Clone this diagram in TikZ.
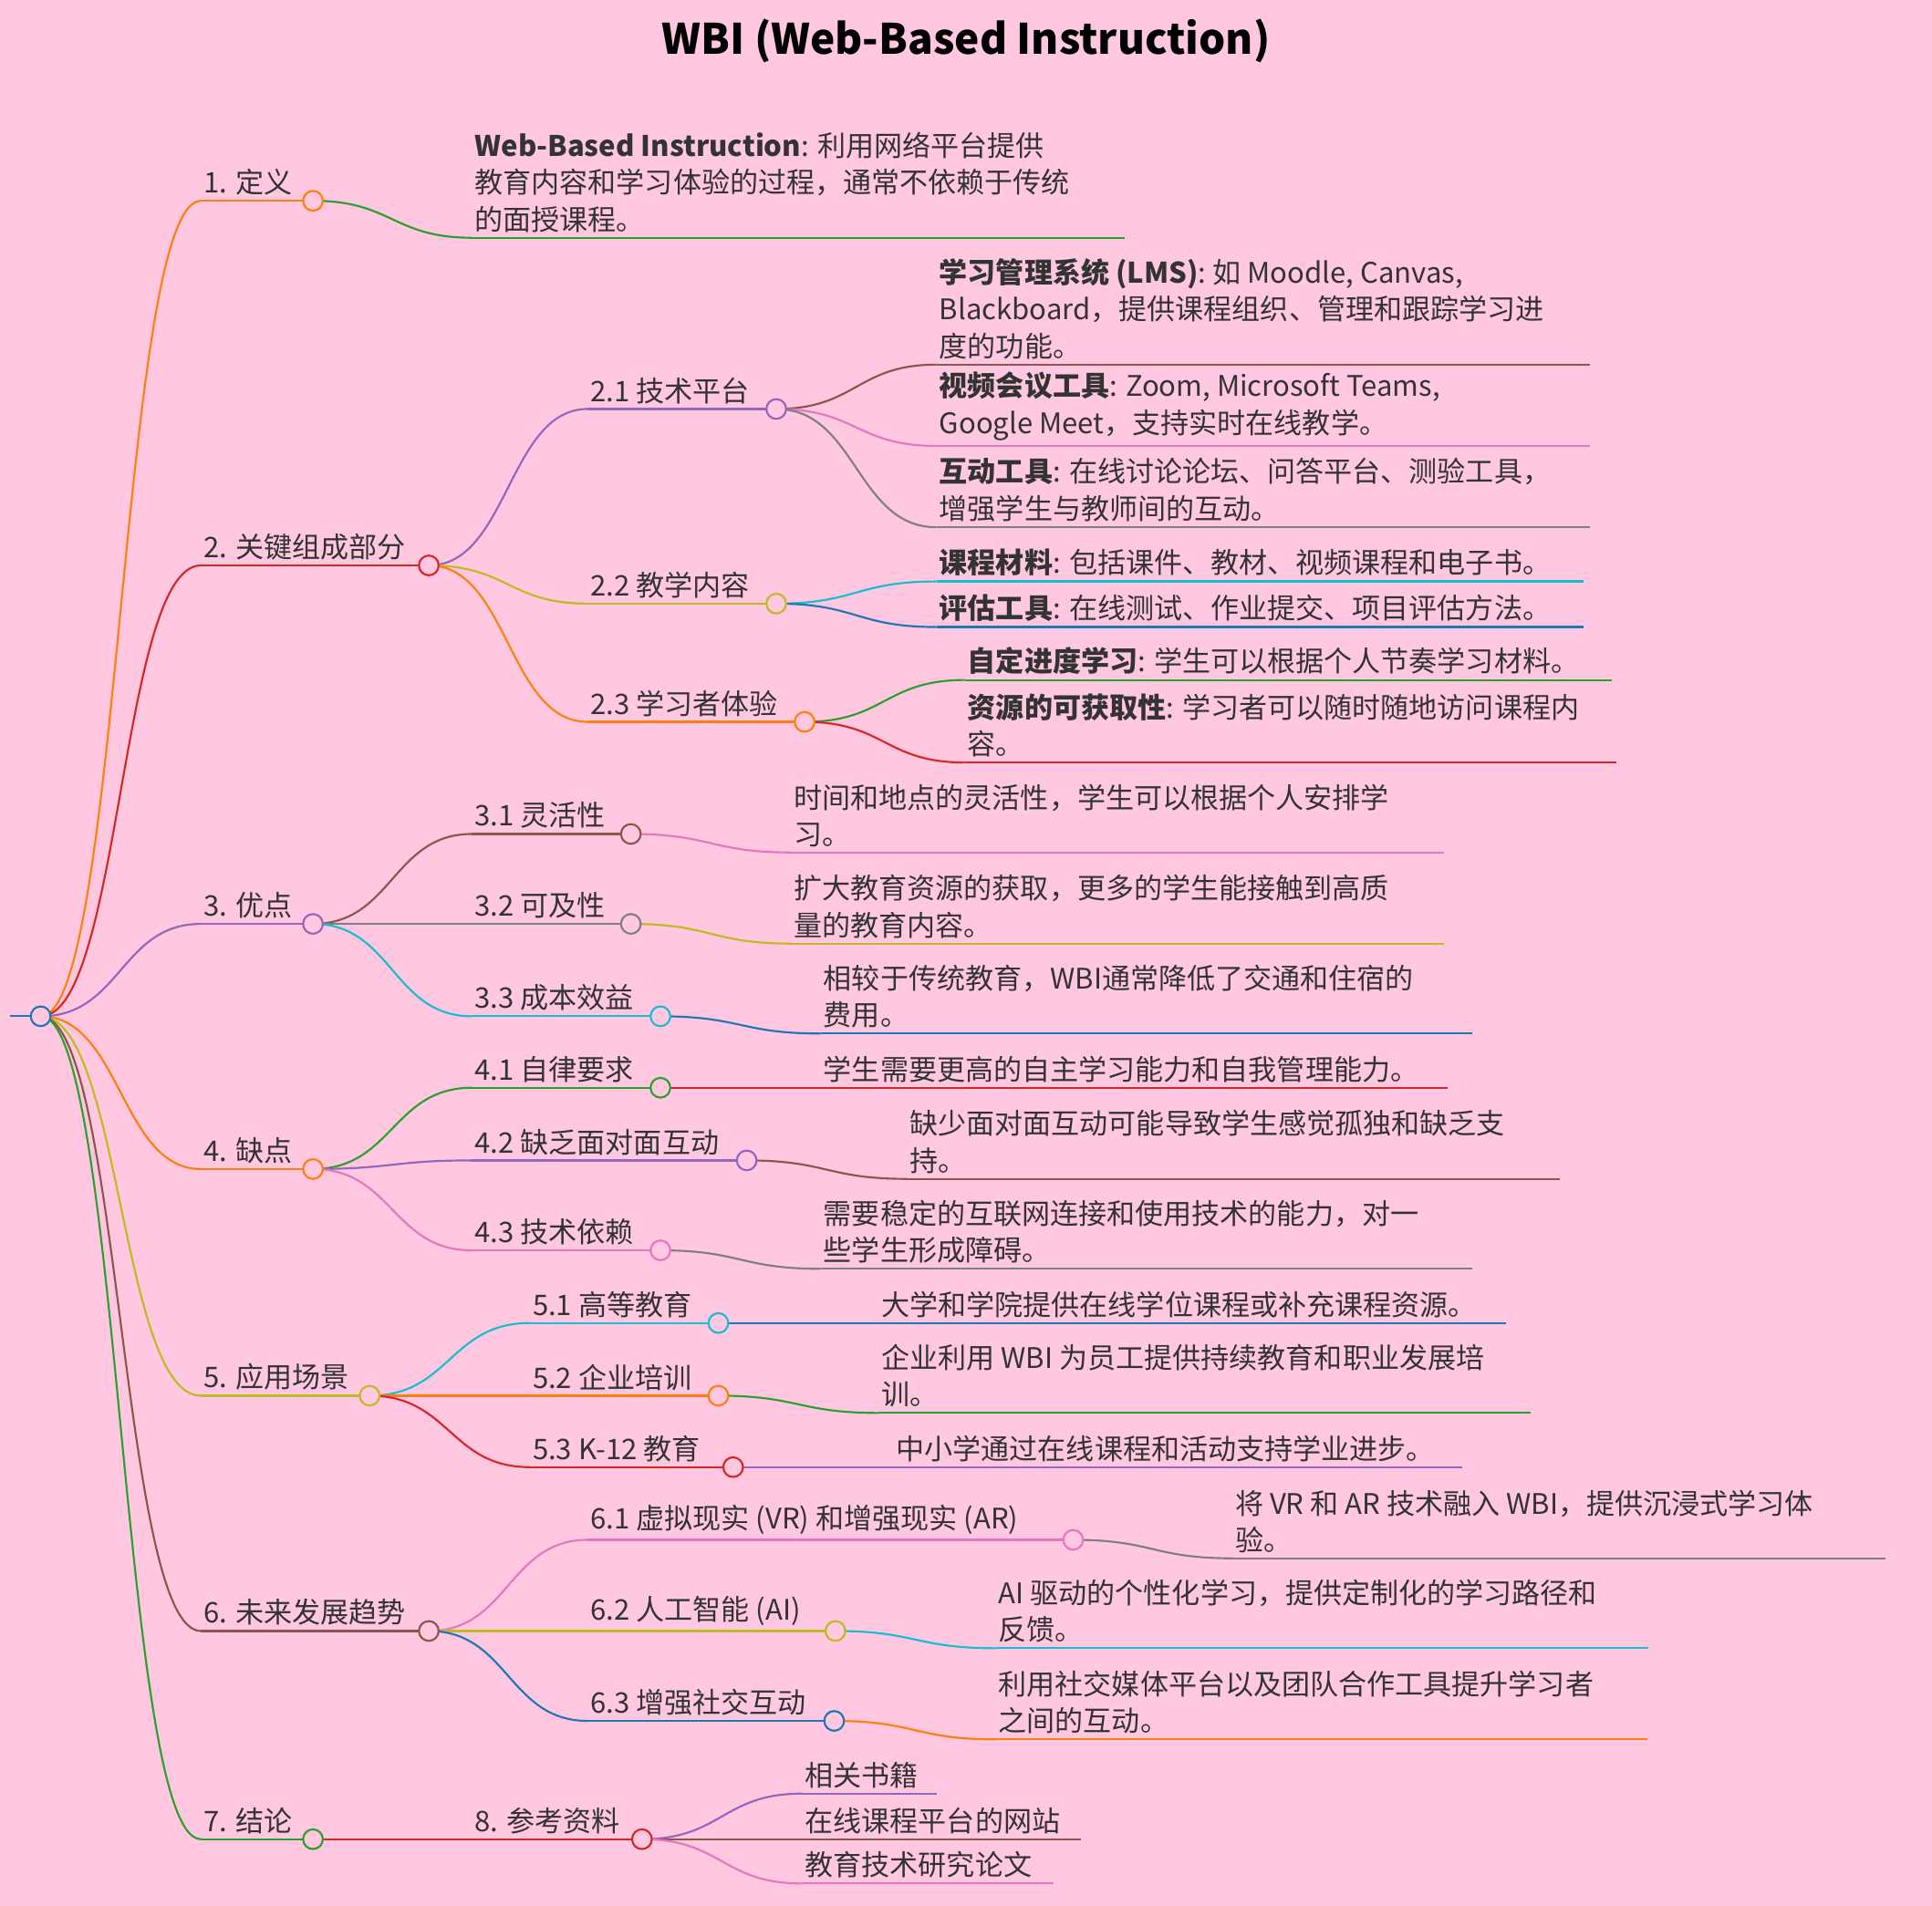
\documentclass[tikz,border=0pt]{standalone}
\usepackage{fontspec}
\setmainfont{Noto Sans CJK SC}
\usetikzlibrary{calc}
\definecolor{bg}{HTML}{FFC8E0}
\definecolor{ink}{HTML}{333333}
\definecolor{cBlue}{HTML}{1F77B4}
\definecolor{cOrange}{HTML}{FF7F0E}
\definecolor{cGreen}{HTML}{2CA02C}
\definecolor{cRed}{HTML}{D62728}
\definecolor{cPurple}{HTML}{9467BD}
\definecolor{cBrown}{HTML}{8C564B}
\definecolor{cPink}{HTML}{E377C2}
\definecolor{cGray}{HTML}{7F7F7F}
\definecolor{cOlive}{HTML}{BCBD22}
\definecolor{cCyan}{HTML}{17BECF}

% branch: name, x start, x end, y, colour, text
\newcommand\branch[6]{%
  \coordinate (#1-s) at (#2,#4);
  \coordinate (#1-e) at (#3,#4);
  \draw [edge,#5] (#1-s) -- (#1-e);
  \node [lbl,anchor=south west] (#1) at ([xshift=1pt,yshift=2pt]#1-s) {#6};}
% link: parent, child, colour
\newcommand\link[3]{%
  \draw [edge,#3] let \p1=(#1-e), \p2=(#2-s) in
    (\p1) .. controls ({0.5*\x1+0.5*\x2},\y1) and ({0.5*\x1+0.5*\x2},\y2) .. (\p2);}
\newcommand\knob[2]{\node [knot,draw=#2] (#1-k) at (#1-e) {};}

\begin{document}
\begin{tikzpicture}[x=0.5pt,y=-0.5pt,
  edge/.style={line width=0.8pt},
  lbl/.style={inner sep=0pt,align=left,text=ink,font=\fontsize{11.5}{15}\selectfont},
  knot/.style={circle,fill=bg,line width=0.8pt,minimum size=8pt,inner sep=0pt}]
  \fill [bg] (0,0) rectangle (1568,1547);
  \useasboundingbox (0,0) rectangle (1568,1547);

  \node [font=\fontsize{17}{20}\selectfont\bfseries] (title) at (784,33) {WBI (Web-Based Instruction)};

  % root
  \coordinate (root-s) at (8,825);
  \coordinate (root-e) at (33,825);
  \draw [edge,cBlue] (root-s) -- (root-e);

  % level 1
  \branch{d1}{163}{254}{163}{cOrange}{1. 定义}
  \branch{d2}{163}{348}{459}{cRed}{2. 关键组成部分}
  \branch{d3}{163}{254}{750}{cPurple}{3. 优点}
  \branch{d4}{163}{254}{949}{cOrange}{4. 缺点}
  \branch{d5}{163}{300}{1133}{cOlive}{5. 应用场景}
  \branch{d6}{163}{348}{1324}{cBrown}{6. 未来发展趋势}
  \branch{d7}{163}{254}{1493}{cGreen}{7. 结论}
  \link{root}{d1}{cOrange}
  \link{root}{d2}{cRed}
  \link{root}{d3}{cPurple}
  \link{root}{d4}{cOrange}
  \link{root}{d5}{cOlive}
  \link{root}{d6}{cBrown}
  \link{root}{d7}{cGreen}

  % 1
  \branch{d1a}{383}{913}{193}{cGreen}{\textbf{Web-Based Instruction}: 利用网络平台提供\\教育内容和学习体验的过程，通常不依赖于传统\\的面授课程。}
  \link{d1}{d1a}{cGreen}

  % 2
  \branch{d21}{477}{630}{332}{cPurple}{2.1 技术平台}
  \branch{d22}{477}{630}{490}{cOlive}{2.2 教学内容}
  \branch{d23}{477}{653}{586}{cOrange}{2.3 学习者体验}
  \link{d2}{d21}{cPurple}
  \link{d2}{d22}{cOlive}
  \link{d2}{d23}{cOrange}
  \branch{d21a}{760}{1290}{296}{cBrown}{\textbf{学习管理系统 (LMS)}: 如 Moodle, Canvas,\\Blackboard，提供课程组织、管理和跟踪学习进\\度的功能。}
  \branch{d21b}{760}{1290}{362}{cPink}{\textbf{视频会议工具}: Zoom, Microsoft Teams,\\Google Meet，支持实时在线教学。}
  \branch{d21c}{760}{1290}{428}{cGray}{\textbf{互动工具}: 在线讨论论坛、问答平台、测验工具，\\增强学生与教师间的互动。}
  \link{d21}{d21a}{cBrown}
  \link{d21}{d21b}{cPink}
  \link{d21}{d21c}{cGray}
  \branch{d22a}{760}{1285}{472}{cCyan}{\textbf{课程材料}: 包括课件、教材、视频课程和电子书。}
  \branch{d22b}{760}{1285}{509}{cBlue}{\textbf{评估工具}: 在线测试、作业提交、项目评估方法。}
  \link{d22}{d22a}{cCyan}
  \link{d22}{d22b}{cBlue}
  \branch{d23a}{783}{1308}{552}{cGreen}{\textbf{自定进度学习}: 学生可以根据个人节奏学习材料。}
  \branch{d23b}{783}{1312}{619}{cRed}{\textbf{资源的可获取性}: 学习者可以随时随地访问课程内\\容。}
  \link{d23}{d23a}{cGreen}
  \link{d23}{d23b}{cRed}

  % 3
  \branch{d31}{383}{512}{677}{cBrown}{3.1 灵活性}
  \branch{d32}{383}{512}{750}{cGray}{3.2 可及性}
  \branch{d33}{383}{536}{825}{cCyan}{3.3 成本效益}
  \link{d3}{d31}{cBrown}
  \link{d3}{d32}{cGray}
  \link{d3}{d33}{cCyan}
  \branch{d31a}{642}{1172}{692}{cPink}{时间和地点的灵活性，学生可以根据个人安排学\\习。}
  \branch{d32a}{642}{1172}{766}{cOlive}{扩大教育资源的获取，更多的学生能接触到高质\\量的教育内容。}
  \branch{d33a}{666}{1195}{839}{cBlue}{相较于传统教育，WBI通常降低了交通和住宿的\\费用。}
  \link{d31}{d31a}{cPink}
  \link{d32}{d32a}{cOlive}
  \link{d33}{d33a}{cBlue}

  % 4
  \branch{d41}{383}{536}{883}{cGreen}{4.1 自律要求}
  \branch{d42}{383}{606}{942}{cPurple}{4.2 缺乏面对面互动}
  \branch{d43}{383}{536}{1015}{cPink}{4.3 技术依赖}
  \link{d4}{d41}{cGreen}
  \link{d4}{d42}{cPurple}
  \link{d4}{d43}{cPink}
  \branch{d41a}{666}{1175}{883}{cRed}{学生需要更高的自主学习能力和自我管理能力。}
  \branch{d42a}{736}{1266}{957}{cBrown}{缺少面对面互动可能导致学生感觉孤独和缺乏支\\持。}
  \branch{d43a}{666}{1195}{1030}{cGray}{需要稳定的互联网连接和使用技术的能力，对一\\些学生形成障碍。}
  \link{d41}{d41a}{cRed}
  \link{d42}{d42a}{cBrown}
  \link{d43}{d43a}{cGray}

  % 5
  \branch{d51}{430}{583}{1074}{cCyan}{5.1 高等教育}
  \branch{d52}{430}{583}{1133}{cOrange}{5.2 企业培训}
  \branch{d53}{430}{595}{1191}{cRed}{5.3 K-12 教育}
  \link{d5}{d51}{cCyan}
  \link{d5}{d52}{cOrange}
  \link{d5}{d53}{cRed}
  \branch{d51a}{713}{1222}{1074}{cBlue}{大学和学院提供在线学位课程或补充课程资源。}
  \branch{d52a}{713}{1242}{1147}{cGreen}{企业利用 WBI 为员工提供持续教育和职业发展培\\训。}
  \branch{d53a}{725}{1187}{1191}{cPurple}{中小学通过在线课程和活动支持学业进步。}
  \link{d51}{d51a}{cBlue}
  \link{d52}{d52a}{cGreen}
  \link{d53}{d53a}{cPurple}

  % 6
  \branch{d61}{477}{871}{1250}{cPink}{6.1 虚拟现实 (VR) 和增强现实 (AR)}
  \branch{d62}{477}{678}{1324}{cOlive}{6.2 人工智能 (AI)}
  \branch{d63}{477}{677}{1397}{cBlue}{6.3 增强社交互动}
  \link{d6}{d61}{cPink}
  \link{d6}{d62}{cOlive}
  \link{d6}{d63}{cBlue}
  \branch{d61a}{1000}{1530}{1265}{cGray}{将 VR 和 AR 技术融入 WBI，提供沉浸式学习体\\验。}
  \branch{d62a}{808}{1338}{1338}{cCyan}{AI 驱动的个性化学习，提供定制化的学习路径和\\反馈。}
  \branch{d63a}{808}{1337}{1412}{cOrange}{利用社交媒体平台以及团队合作工具提升学习者\\之间的互动。}
  \link{d61}{d61a}{cGray}
  \link{d62}{d62a}{cCyan}
  \link{d63}{d63a}{cOrange}

  % 7 / 8
  \branch{d8}{383}{521}{1493}{cRed}{8. 参考资料}
  \link{d7}{d8}{cRed}
  \branch{d8a}{651}{760}{1456}{cPurple}{相关书籍}
  \branch{d8b}{651}{877}{1493}{cBrown}{在线课程平台的网站}
  \branch{d8c}{651}{855}{1529}{cPink}{教育技术研究论文}
  \link{d8}{d8a}{cPurple}
  \link{d8}{d8b}{cBrown}
  \link{d8}{d8c}{cPink}

  % knobs on top
  \knob{root}{cBlue}
  \knob{d1}{cOrange}
  \knob{d2}{cRed}
  \knob{d3}{cPurple}
  \knob{d4}{cOrange}
  \knob{d5}{cOlive}
  \knob{d6}{cBrown}
  \knob{d7}{cGreen}
  \knob{d21}{cPurple}
  \knob{d22}{cOlive}
  \knob{d23}{cOrange}
  \knob{d31}{cBrown}
  \knob{d32}{cGray}
  \knob{d33}{cCyan}
  \knob{d41}{cGreen}
  \knob{d42}{cPurple}
  \knob{d43}{cPink}
  \knob{d51}{cCyan}
  \knob{d52}{cOrange}
  \knob{d53}{cRed}
  \knob{d61}{cPink}
  \knob{d62}{cOlive}
  \knob{d63}{cBlue}
  \knob{d8}{cRed}
\end{tikzpicture}
\end{document}
